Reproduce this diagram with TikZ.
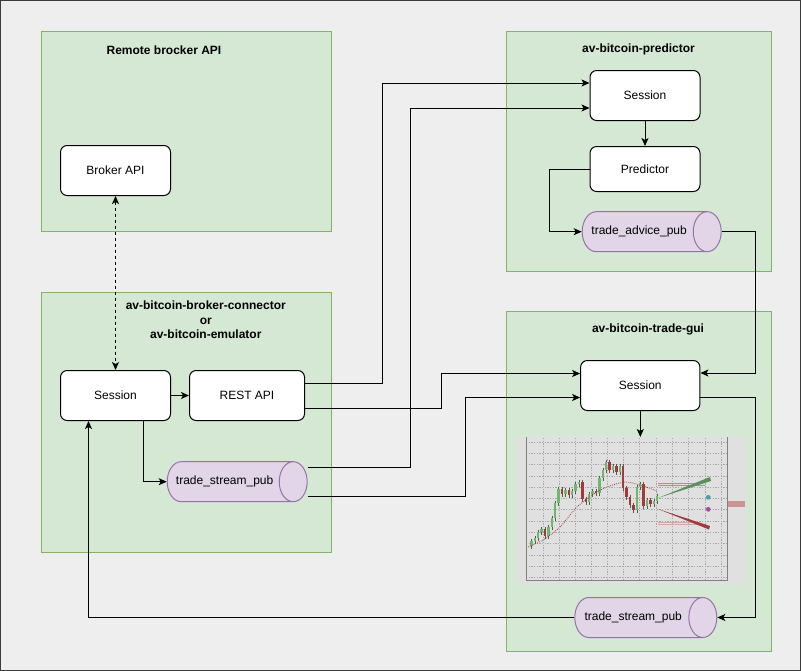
\documentclass[tikz,border=0pt]{standalone}
\usepackage{fontspec}
\setmainfont{Liberation Sans}
\usepackage{xcolor}
\definecolor{cBg}{HTML}{EEEEEE}
\definecolor{cFrame}{HTML}{3A3A3A}
\definecolor{cGroup}{HTML}{D5E8D4}
\definecolor{cGroupLine}{HTML}{82B366}
\definecolor{cTopic}{HTML}{E1D5E7}
\definecolor{cTopicLine}{HTML}{9673A6}
\definecolor{cChart}{HTML}{E0E0E0}
\definecolor{cGrid}{HTML}{A8A8A8}
\definecolor{cUp}{HTML}{6DB86D}
\definecolor{cDown}{HTML}{A23A3A}
\definecolor{cTeal}{HTML}{4E9FA3}
\definecolor{cPurple}{HTML}{A24D9E}
\usepackage{tikz}
\usetikzlibrary{positioning,arrows.meta,shapes.geometric,calc}
\tikzset{
  group-box/.style={draw=cGroupLine,fill=cGroup,line width=0.75pt,
    anchor=north west,inner sep=0pt},
  group-title/.style={font=\bfseries\fontsize{9}{11}\selectfont,align=center},
  node-box/.style={draw=black,fill=white,line width=0.75pt,rounded corners=5pt,
    inner sep=0pt,minimum width=82.5pt,minimum height=37.5pt,
    font=\fontsize{9}{11}\selectfont},
  node-topic/.style={cylinder,shape border rotate=0,aspect=2.5,draw=cTopicLine,
    line width=0.75pt,cylinder uses custom fill,cylinder body fill=cTopic,
    cylinder end fill=cTopic,minimum height=105pt,minimum width=30pt,
    inner sep=0pt,anchor=west,font=\fontsize{9}{11}\selectfont,
    execute at begin node=\hspace*{-8pt}},
  chart-bg/.style={fill=cChart,anchor=north west,inner sep=0pt,
    minimum width=172.5pt,minimum height=111pt},
  chart-grid/.style={draw=cGrid,line width=0.3pt,dash pattern=on 1pt off 1pt},
  arrow/.style={-{Stealth[length=6pt,width=5.25pt,inset=1.5pt]},
    line width=0.75pt,draw=black},
  arrow-link/.style={{Stealth[length=6pt,width=5.25pt,inset=1.5pt]}-{Stealth[length=6pt,width=5.25pt,inset=1.5pt]},
    line width=0.75pt,draw=black,dash pattern=on 2.25pt off 2.25pt},
}

\begin{document}
\begin{tikzpicture}[x=0.75pt,y=-0.75pt]
  \useasboundingbox (0,0) rectangle (801,671);
  \fill[cBg] (0,0) rectangle (801,671);
  \draw[cFrame,line width=0.75pt] (0.5,0.5) rectangle (800.5,670.5);

  % groups
  \node[group-box,minimum width=217.5pt,minimum height=150pt] (gRemote) at (40.5,30.5) {};
  \node[group-box,minimum width=217.5pt,minimum height=195pt] (gConn) at (40.5,291.5) {};
  \node[group-box,minimum width=198.75pt,minimum height=180pt] (gPred) at (505.5,30.5) {};
  \node[group-box,minimum width=198.75pt,minimum height=255pt] (gGui) at (505.5,310.5) {};
  \node[group-title] (tRemote) at (164,50) {Remote brocker API};
  \node[group-title] (tConn) at (205.8,320) {av-bitcoin-broker-connector\\or\\av-bitcoin-emulator};
  \node[group-title] (tPred) at (638.5,49.5) {av-bitcoin-predictor};
  \node[group-title] (tGui) at (648,329.5) {av-bitcoin-trade-gui};

  % nodes
  \node[node-box]                                (broker)  at (115.5,170.5) {Broker API};
  \node[node-box]                                (sconn)   at (115.5,395.5) {Session};
  \node[node-box,right=13.5pt of sconn,minimum width=86.25pt] (rest) {REST API};
  \node[node-topic]                              (streamC) at (166.7,481.7) {trade\_stream\_pub};
  \node[node-box]                                (spred)   at (645,95.5) {Session};
  \node[node-box,below=18.75pt of spred,minimum height=33.75pt] (pred) {Predictor};
  \node[node-topic,minimum height=104.25pt]      (advice)  at (581.7,231.7) {trade\_advice\_pub};
  \node[node-box,minimum width=89.5pt]           (sgui)    at (640.3,385.5) {Session};
  \node[node-topic,minimum height=106.5pt]       (streamG) at (574.3,617.5) {trade\_stream\_pub};
  \node[chart-bg]                                (chart)   at (516,437) {};

  % chart
  \foreach \gx in {543,559,575,591,607,623,639,656,672,688,705,721}
    \draw[chart-grid] (\gx,438) -- (\gx,580);
  \foreach \gy in {442,453,464,476,487,498,509,521,532,543,555,566,577}
    \draw[chart-grid] (526,\gy) -- (727,\gy);
  \draw[gray,line width=0.4pt] (526,437) -- (526,580) -- (727,580) -- (727,437);
  \foreach \cl [count=\i, remember=\cl as \op (initially 546)] in
    {541,538,532,529,536,527,518,503,489,494,490,495,491,484,482,499,502,494,491,
     493,478,470,462,470,466,472,466,488,497,505,510,487,484,506,500,504,501,496} {
    \pgfmathsetmacro\cx{528+3.4*\i}
    \ifdim\cl pt<\op pt \def\ccol{cUp}\else\def\ccol{cDown}\fi
    \draw[gray!70!black,line width=0.3pt] (\cx,{min(\op,\cl)-2.5}) -- (\cx,{max(\op,\cl)+2.5});
    \fill[\ccol] (\cx-1.2,\op) rectangle (\cx+1.2,\cl);
  }
  \draw[cDown,line width=0.6pt,dash pattern=on 0.6pt off 0.9pt] plot[smooth] coordinates
    {(528,547) (543,540) (560,527) (577,507) (597,492) (610,486) (625,482) (640,485) (657,491)};
  \draw[cUp,line width=0.4pt] (658,483.3) -- (703,483.3) (658,485.2) -- (705,485.2);
  \fill[cUp!80!black] (658,498) -- (710,477) -- (711,481) -- cycle;
  \draw[cDown!45,line width=0.4pt] (658,522.7) -- (697,522.7) (658,524.5) -- (700,524.5);
  \fill[cDown] (658,509) -- (710,526) -- (709,529.5) -- cycle;
  \fill[cTeal] (708.3,497.3) circle (1.8pt);
  \fill[cPurple] (708.3,509.3) circle (1.8pt);
  \fill[cDown!55] (728,501) rectangle (745,507);

  % connectors
  \draw[arrow-link] (broker.south) -- (sconn.north);
  \draw[arrow] (sconn.east) -- (rest.west);
  \draw[arrow] ($(rest.east)+(0,-12)$) -- ++(77,0) |- ($(spred.west)+(0,-12.5)$);
  \draw[arrow] ($(rest.east)+(0,13)$) -- ++(136,0) |- ($(sgui.west)+(0,-12)$);
  \draw[arrow] ($(streamC.east)+(0,-14.5)$) -- ++(103,0) |- ($(spred.west)+(0,12.5)$);
  \draw[arrow] ($(streamC.east)+(0,14.5)$) -- ++(158,0) |- ($(sgui.west)+(0,12)$);
  \draw[arrow] (spred.south) -- (pred.north);
  \draw[arrow] (pred.west) -- ++(-40,0) |- (advice.west);
  \draw[arrow] (advice.east) -- ++(34,0) |- ($(sgui.east)+(0,-12.5)$);
  \draw[arrow] (sgui.south) -- (sgui.south |- chart.north);
  \draw[arrow] ($(sgui.east)+(0,12)$) -- ++(55,0) |- (streamG.east);
  \draw[arrow] (streamG.west) -| ($(sconn.south)+(-27,0)$);
  \draw[arrow] ($(sconn.south)+(27.5,0)$) |- (streamC.west);
\end{tikzpicture}
\end{document}
